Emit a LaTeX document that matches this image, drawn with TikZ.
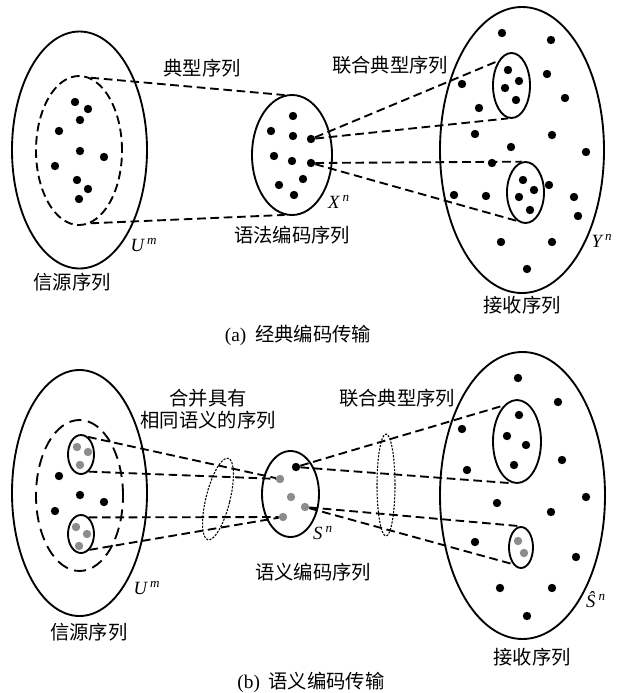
\documentclass[tikz,border=0pt]{standalone}
\usepackage{fontspec}
\setmainfont{Liberation Serif}
\newfontfamily\cjk{Noto Sans CJK SC}
\usetikzlibrary{shapes.geometric}

\begin{document}
\begin{tikzpicture}[x=0.75pt, y=-0.75pt,
    sz/.style 2 args={minimum width=#1*0.75pt, minimum height=#2*0.75pt},
    region/.style={draw, ellipse, line width=1.4pt, inner sep=0pt},
    cut/.style={draw, ellipse, line width=0.8pt, inner sep=0pt, dash pattern=on 1.6pt off 1pt},
    dotb/.style={circle, fill=black, inner sep=0pt, minimum size=6.3pt},
    dotg/.style={dotb, fill=black!45},
    link/.style={line width=1.4pt, dash pattern=on 6.5pt off 3.5pt},
    txt/.style={font=\cjk\fontsize{14.5pt}{17pt}\selectfont, inner sep=0pt},
    sym/.style={font=\fontsize{14pt}{16pt}\selectfont, inner sep=0pt}]
  \useasboundingbox (0,0) rectangle (619,693);

  % (a) Insiemi
  \node[region, sz={135}{237}] (U) at (79.5,150) {};
  \node[region, sz={86}{149}, dash pattern=on 6.5pt off 3.5pt] (Ut) at (79,150.5) {};
  \node[region, sz={80}{120}] (X) at (292,155) {};
  \node[region, sz={164}{286}] (Y) at (522,150) {};
  \node[region, sz={37}{65}] (Ya) at (511.5,85.5) {};
  \node[region, sz={37}{61}] (Yb) at (525.5,192.5) {};

  % (a) Punti
  \node[dotb] (u1) at (75,102) {}; \node[dotb] (u2) at (88,109) {};
  \node[dotb] (u3) at (80,120) {}; \node[dotb] (u4) at (59,131) {};
  \node[dotb] (u5) at (80,151) {}; \node[dotb] (u6) at (104,157) {};
  \node[dotb] (u7) at (55,166) {}; \node[dotb] (u8) at (77,180) {};
  \node[dotb] (u9) at (88,189) {}; \node[dotb] (u10) at (79,199) {};

  \node[dotb] (x1) at (293,116) {}; \node[dotb] (x2) at (271,131) {};
  \node[dotb] (x3) at (293,136) {}; \node[dotb] (x4) at (311,139) {};
  \node[dotb] (x5) at (274,156) {}; \node[dotb] (x6) at (292,161) {};
  \node[dotb] (x7) at (311,163) {}; \node[dotb] (x8) at (303,179) {};
  \node[dotb] (x9) at (279,185) {}; \node[dotb] (x10) at (294,195) {};

  \node[dotb] (ya1) at (508,70) {}; \node[dotb] (ya2) at (519,81) {};
  \node[dotb] (ya3) at (505,88) {}; \node[dotb] (ya4) at (516,100) {};
  \node[dotb] (yb1) at (523,180) {}; \node[dotb] (yb2) at (534,190) {};
  \node[dotb] (yb3) at (519,197) {}; \node[dotb] (yb4) at (530,210) {};

  \node[dotb] (y1) at (502,33) {}; \node[dotb] (y2) at (551,40) {};
  \node[dotb] (y3) at (547,74) {}; \node[dotb] (y4) at (462,84) {};
  \node[dotb] (y5) at (565,98) {}; \node[dotb] (y6) at (479,108) {};
  \node[dotb] (y7) at (475,134) {}; \node[dotb] (y8) at (552,135) {};
  \node[dotb] (y9) at (511,147) {}; \node[dotb] (y10) at (586,152) {};
  \node[dotb] (y11) at (492,163) {}; \node[dotb] (y12) at (549,185) {};
  \node[dotb] (y13) at (454,195) {}; \node[dotb] (y14) at (486,196) {};
  \node[dotb] (y15) at (574,197) {}; \node[dotb] (y16) at (578,216) {};
  \node[dotb] (y17) at (501,242) {}; \node[dotb] (y18) at (552,242) {};
  \node[dotb] (y19) at (527,269) {};

  % (a) Archi
  \draw[link] (Ut.81) -- (X.97);
  \draw[link] (Ut.279) -- (X.263);
  \draw[link] (x4) -- (Ya.118);
  \draw[link] (x4) -- (Ya.264);
  \draw[link] (x7) -- (Yb.97);
  \draw[link] (x7) -- (Yb.254);

  % (a) Etichette
  \node[txt] (ta1) at (202,68) {典型序列};
  \node[txt] (ta2) at (390,65) {联合典型序列};
  \node[txt] (ta3) at (292,235) {语法编码序列};
  \node[txt] (ta4) at (72,282) {信源序列};
  \node[txt] (ta5) at (522,305) {接收序列};
  \node[sym] (la1) at (144,245) {\textit{U\,\textsuperscript{m}}};
  \node[sym] (la2) at (339,202) {\textit{X\,\textsuperscript{n}}};
  \node[sym] (la3) at (602,241) {\textit{Y\,\textsuperscript{n}}};
  \node[txt] (capa) at (298,335) {{\fontspec{Liberation Serif}(a)}\ \ 经典编码传输};

  % (b) Insiemi
  \node[region, sz={135}{246}] (V) at (79.5,493) {};
  \node[region, sz={87}{151}, dash pattern=on 9pt off 5pt] (Vt) at (79.5,495.5) {};
  \node[region, sz={26}{39}] (Va) at (81,454.5) {};
  \node[region, sz={26}{38}] (Vb) at (81,534) {};
  \node[region, sz={57}{86}] (S) at (290.5,494) {};
  \node[cut, sz={24}{84}, rotate=-14] (c1) at (218,499) {};
  \node[cut, sz={18}{102}] (c2) at (386,485) {};
  \node[region, sz={165}{287}] (R) at (522.5,495.5) {};
  \node[region, sz={48}{83}] (Ra) at (517,441.5) {};
  \node[region, sz={24}{41}] (Rb) at (521,547.5) {};

  % (b) Punti
  \node[dotg] (va1) at (77,447) {}; \node[dotg] (va2) at (88,452) {};
  \node[dotg] (va3) at (80,465) {};
  \node[dotg] (vb1) at (76,527) {}; \node[dotg] (vb2) at (87,534) {};
  \node[dotg] (vb3) at (79,546) {};
  \node[dotb] (v1) at (59,476) {}; \node[dotb] (v2) at (80,495) {};
  \node[dotb] (v3) at (104,502) {}; \node[dotb] (v4) at (55,511) {};

  \node[dotb] (s1) at (296,467) {}; \node[dotg] (g1) at (280,479) {};
  \node[dotg] (g2) at (291,497) {}; \node[dotg] (g3) at (305,507) {};
  \node[dotg] (g4) at (283,517) {};

  \node[dotb] (ra1) at (519,415) {}; \node[dotb] (ra2) at (507,436) {};
  \node[dotb] (ra3) at (526,445) {}; \node[dotb] (ra4) at (514,465) {};
  \node[dotg] (rb1) at (518,541) {}; \node[dotg] (rb2) at (524,553) {};

  \node[dotb] (r1) at (518,378) {}; \node[dotb] (r2) at (558,402) {};
  \node[dotb] (r3) at (462,429) {}; \node[dotb] (r4) at (562,460) {};
  \node[dotb] (r5) at (467,470) {}; \node[dotb] (r6) at (586,497) {};
  \node[dotb] (r7) at (497,503) {}; \node[dotb] (r8) at (551,512) {};
  \node[dotb] (r9) at (475,542) {}; \node[dotb] (r10) at (576,557) {};
  \node[dotb] (r11) at (500,588) {}; \node[dotb] (r12) at (552,588) {};
  \node[dotb] (r13) at (527,616) {};

  % (b) Archi
  \draw[link] (Va.68) -- (g1);
  \draw[link] (Va.294) -- (g1);
  \draw[link] (Vb.65) -- (g4);
  \draw[link] (Vb.298) -- (g4);
  \draw[link] (s1) -- (Ra.110);
  \draw[link] (s1) -- (Ra.264);
  \draw[link] (g3) -- (Rb.93);
  \draw[link] (g3) -- (Rb.244);

  % (b) Etichette
  \node[txt, align=center] (tb1) at (208,409) {合并具有\\[-1pt]相同语义的序列};
  \node[txt] (tb2) at (397,398) {联合典型序列};
  \node[txt] (tb3) at (313,572) {语义编码序列};
  \node[txt] (tb4) at (89,632) {信源序列};
  \node[txt] (tb5) at (532,657) {接收序列};
  \node[sym] (lb1) at (147,588) {\textit{U\,\textsuperscript{m}}};
  \node[sym] (lb2) at (323,533) {\textit{S\,\textsuperscript{n}}};
  \node[sym] (lb3) at (596,600) {\textit{\^{S}\,\textsuperscript{n}}};
  \node[txt] (capb) at (311,682) {{\fontspec{Liberation Serif}(b)}\ \ 语义编码传输};
\end{tikzpicture}
\end{document}
